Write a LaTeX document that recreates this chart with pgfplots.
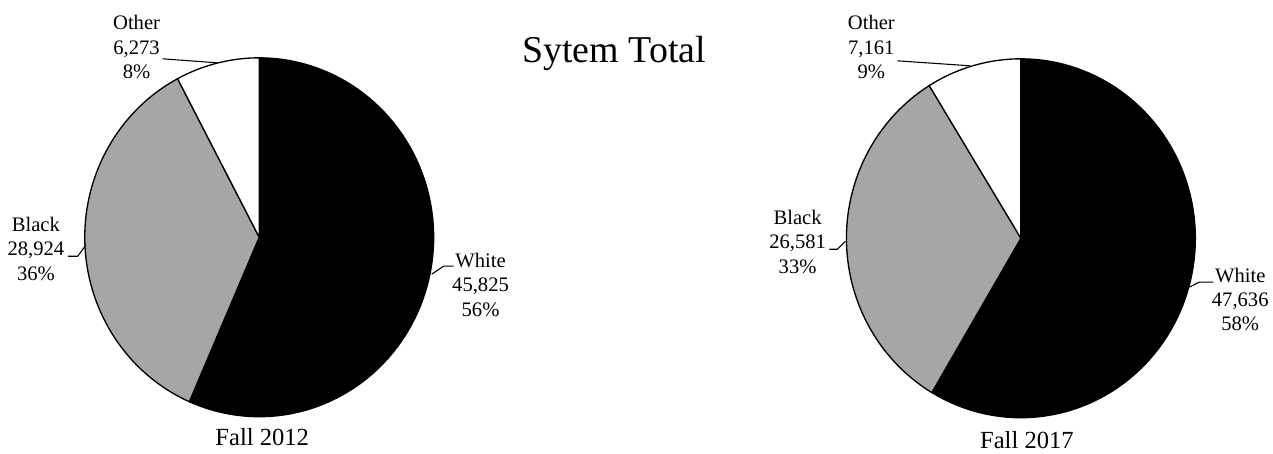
\documentclass[border=0pt]{standalone}
\usepackage{pgfplots}
\pgfplotsset{compat=1.18}
\usepackage{pgfplotstable}
\usepackage{fontspec}
\setmainfont{Liberation Serif}
\definecolor{pieblack}{RGB}{0,0,0}
\definecolor{piegray}{RGB}{166,166,166}

% enrolment by race, one table per term
\pgfplotstableread{
race count
White 45825
Black 28924
Other 6273
}\fallA
\pgfplotstableread{
race count
White 47636
Black 26581
Other 7161
}\fallB

\def\rx{175}
\def\ry{180}

% wedge from angle #3 to #4 (degrees), centre (#1,#2), y grows downwards
\newcommand\slice[5]{%
  \edef\tmp{\noexpand\addplot[fill=#5, draw=black, line width=1pt,
    samples=90, domain=#3:#4]
    ({#1+\rx*cos(x)}, {#2-\ry*sin(x)}) -- (axis cs:#1,#2) -- cycle;}%
  \tmp}

% pie of table #3 at centre (#1,#2): White, Black, Other clockwise from 12 o'clock
\newcommand\pie[3]{%
  \pgfplotstablegetelem{0}{count}\of#3\edef\vW{\pgfplotsretval}%
  \pgfplotstablegetelem{1}{count}\of#3\edef\vB{\pgfplotsretval}%
  \pgfplotstablegetelem{2}{count}\of#3\edef\vO{\pgfplotsretval}%
  \edef\tot{\the\numexpr\vW+\vB+\vO\relax}%
  % angles in tenths of a degree
  \edef\hW{\the\numexpr 900-3600*\vW/\tot\relax}%
  \edef\hWB{\the\numexpr 900-3600*(\vW+\vB)/\tot\relax}%
  \pgfmathsetmacro\aW{\hW/10}%
  \pgfmathsetmacro\aB{\hWB/10}%
  \slice{#1}{#2}{\aW}{90}{pieblack}%
  \slice{#1}{#2}{\aB}{\aW}{piegray}%
  \slice{#1}{#2}{-270}{\aB}{white}%
}

\newcommand\lab[5]{%
  \node[anchor=base, font=\lfont] at (axis cs:#1,#2) {#3};
  \node[anchor=base, font=\lfont] at (axis cs:#1,#2+24.5) {#4};
  \node[anchor=base, font=\lfont] at (axis cs:#1,#2+49) {#5};
}
\newcommand\lfont{\fontsize{15.5pt}{18pt}\selectfont}

\begin{document}
\begin{tikzpicture}
\begin{axis}[
    x=0.75pt, y=0.75pt,
    xmin=0, xmax=1273,
    ymin=0, ymax=453,
    y dir=reverse,
    hide axis,
    clip=false,
]
\path (axis cs:0,0) rectangle (axis cs:1273,453);

\pie{260}{238}{\fallA}
\pie{1024}{239}{\fallB}

% labels, Fall 2012
\lab{137}{30}{Other}{6,273}{8\%}
\lab{36}{232}{Black}{28,924}{36\%}
\lab{482}{268}{White}{45,825}{56\%}
\draw[line width=0.8pt] (axis cs:163,59) -- (axis cs:218,63);
\draw[line width=0.8pt] (axis cs:68,257) -- (axis cs:78,257) -- (axis cs:86,246);
\draw[line width=0.8pt] (axis cs:433,275) -- (axis cs:445,267) -- (axis cs:455,267);
\node[anchor=base, font=\fontsize{18.5pt}{22pt}\selectfont] at (axis cs:263,447) {Fall 2012};

% labels, Fall 2017
\lab{874}{30}{Other}{7,161}{9\%}
\lab{800}{225}{Black}{26,581}{33\%}
\lab{1244}{283}{White}{47,636}{58\%}
\draw[line width=0.8pt] (axis cs:900,61) -- (axis cs:973,66);
\draw[line width=0.8pt] (axis cs:832,250) -- (axis cs:840,250) -- (axis cs:848,242);
\draw[line width=0.8pt] (axis cs:1193,288) -- (axis cs:1203,283) -- (axis cs:1217,283);
\node[anchor=base, font=\fontsize{18.5pt}{22pt}\selectfont] at (axis cs:1030,450) {Fall 2017};

\node[anchor=base, font=\fontsize{28.5pt}{34pt}\selectfont] at (axis cs:616,63) {Sytem Total};
\end{axis}
\end{tikzpicture}
\end{document}
